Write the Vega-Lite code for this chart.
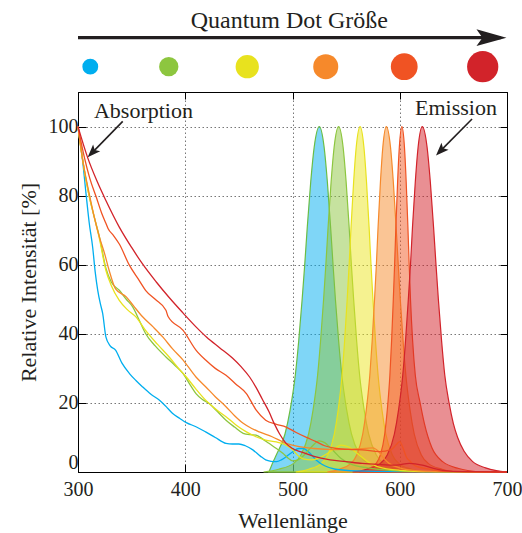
{
  "$schema": "https://vega.github.io/schema/vega-lite/v6.json",
  "padding": {"left": 16, "top": 5, "right": 5, "bottom": 5},
  "config": {
    "font": "Liberation Serif",
    "view": {"stroke": "#000", "strokeWidth": 1},
    "axis": {"labelColor": "#231f20", "titleColor": "#231f20", "tickColor": "#000", "domainColor": "#000", "labelFont": "Liberation Serif", "titleFont": "Liberation Serif", "titleFontWeight": "normal"}
  },
  "datasets": {
    "one": [{}],
    "dots": [
      {"qd": "blau", "groesse": 1.0},
      {"qd": "gruen", "groesse": 1.22},
      {"qd": "gelb", "groesse": 1.47},
      {"qd": "orange", "groesse": 1.58},
      {"qd": "orangerot", "groesse": 1.69},
      {"qd": "rot", "groesse": 1.97}
    ],
    "emission": [
      {"qd":"blau","nm":478,"em":0},{"qd":"blau","nm":482,"em":3},{"qd":"blau","nm":485,"em":5},{"qd":"blau","nm":493,"em":11},{"qd":"blau","nm":497.8,"em":18},{"qd":"blau","nm":502.6,"em":28},{"qd":"blau","nm":505.8,"em":38},{"qd":"blau","nm":509,"em":50},{"qd":"blau","nm":511.4,"em":60},{"qd":"blau","nm":513.8,"em":71},{"qd":"blau","nm":517,"em":84},{"qd":"blau","nm":520.2,"em":94},{"qd":"blau","nm":525,"em":100},{"qd":"blau","nm":529.5,"em":94},{"qd":"blau","nm":532.5,"em":84},{"qd":"blau","nm":535.5,"em":71},{"qd":"blau","nm":537.8,"em":60},{"qd":"blau","nm":540,"em":50},{"qd":"blau","nm":543,"em":38},{"qd":"blau","nm":546,"em":28},{"qd":"blau","nm":550.5,"em":18},{"qd":"blau","nm":555,"em":11},{"qd":"blau","nm":562.5,"em":5},{"qd":"blau","nm":570,"em":2.5},{"qd":"blau","nm":585,"em":0.8},{"qd":"blau","nm":600,"em":0},
      {"qd":"gruen","nm":473,"em":0},{"qd":"gruen","nm":487,"em":0.8},{"qd":"gruen","nm":501,"em":2.5},{"qd":"gruen","nm":508,"em":5},{"qd":"gruen","nm":515,"em":11},{"qd":"gruen","nm":519.2,"em":18},{"qd":"gruen","nm":523.4,"em":28},{"qd":"gruen","nm":526.2,"em":38},{"qd":"gruen","nm":529,"em":50},{"qd":"gruen","nm":531.1,"em":60},{"qd":"gruen","nm":533.2,"em":71},{"qd":"gruen","nm":536,"em":84},{"qd":"gruen","nm":538.8,"em":94},{"qd":"gruen","nm":543,"em":100},{"qd":"gruen","nm":547.2,"em":94},{"qd":"gruen","nm":550,"em":84},{"qd":"gruen","nm":552.8,"em":71},{"qd":"gruen","nm":554.9,"em":60},{"qd":"gruen","nm":557,"em":50},{"qd":"gruen","nm":559.8,"em":38},{"qd":"gruen","nm":562.6,"em":28},{"qd":"gruen","nm":566.8,"em":18},{"qd":"gruen","nm":571,"em":11},{"qd":"gruen","nm":578,"em":5},{"qd":"gruen","nm":585,"em":2.5},{"qd":"gruen","nm":599,"em":0.8},{"qd":"gruen","nm":613,"em":0},
      {"qd":"gelb","nm":503,"em":0},{"qd":"gelb","nm":515,"em":0.8},{"qd":"gelb","nm":527,"em":2.5},{"qd":"gelb","nm":533,"em":5},{"qd":"gelb","nm":539,"em":11},{"qd":"gelb","nm":542.6,"em":18},{"qd":"gelb","nm":546.2,"em":28},{"qd":"gelb","nm":548.6,"em":38},{"qd":"gelb","nm":551,"em":50},{"qd":"gelb","nm":552.8,"em":60},{"qd":"gelb","nm":554.6,"em":71},{"qd":"gelb","nm":557,"em":84},{"qd":"gelb","nm":559.4,"em":94},{"qd":"gelb","nm":563,"em":100},{"qd":"gelb","nm":566.6,"em":94},{"qd":"gelb","nm":569,"em":84},{"qd":"gelb","nm":571.4,"em":71},{"qd":"gelb","nm":573.2,"em":60},{"qd":"gelb","nm":575,"em":50},{"qd":"gelb","nm":577.4,"em":38},{"qd":"gelb","nm":579.8,"em":28},{"qd":"gelb","nm":583.4,"em":18},{"qd":"gelb","nm":587,"em":11},{"qd":"gelb","nm":593,"em":5},{"qd":"gelb","nm":599,"em":2.5},{"qd":"gelb","nm":611,"em":0.8},{"qd":"gelb","nm":623,"em":0},
      {"qd":"orange","nm":532.5,"em":0},{"qd":"orange","nm":543.5,"em":0.8},{"qd":"orange","nm":554.5,"em":2.5},{"qd":"orange","nm":560,"em":5},{"qd":"orange","nm":565.5,"em":11},{"qd":"orange","nm":568.8,"em":18},{"qd":"orange","nm":572.1,"em":28},{"qd":"orange","nm":574.3,"em":38},{"qd":"orange","nm":576.5,"em":50},{"qd":"orange","nm":578.2,"em":60},{"qd":"orange","nm":579.8,"em":71},{"qd":"orange","nm":582,"em":84},{"qd":"orange","nm":584.2,"em":94},{"qd":"orange","nm":587.5,"em":100},{"qd":"orange","nm":591.4,"em":94},{"qd":"orange","nm":594,"em":84},{"qd":"orange","nm":596.6,"em":71},{"qd":"orange","nm":598.6,"em":60},{"qd":"orange","nm":600.5,"em":50},{"qd":"orange","nm":603.1,"em":38},{"qd":"orange","nm":605.7,"em":28},{"qd":"orange","nm":609.6,"em":18},{"qd":"orange","nm":613.5,"em":11},{"qd":"orange","nm":620,"em":5},{"qd":"orange","nm":626.5,"em":2.5},{"qd":"orange","nm":639.5,"em":0.8},{"qd":"orange","nm":652.5,"em":0},
      {"qd":"orangerot","nm":562,"em":0},{"qd":"orangerot","nm":570,"em":0.8},{"qd":"orangerot","nm":578,"em":2.5},{"qd":"orangerot","nm":582,"em":5},{"qd":"orangerot","nm":586,"em":11},{"qd":"orangerot","nm":588.4,"em":18},{"qd":"orangerot","nm":590.8,"em":28},{"qd":"orangerot","nm":592.4,"em":38},{"qd":"orangerot","nm":594,"em":50},{"qd":"orangerot","nm":595.2,"em":60},{"qd":"orangerot","nm":596.4,"em":71},{"qd":"orangerot","nm":598,"em":84},{"qd":"orangerot","nm":599.6,"em":94},{"qd":"orangerot","nm":602,"em":100},{"qd":"orangerot","nm":604.4,"em":94},{"qd":"orangerot","nm":606,"em":84},{"qd":"orangerot","nm":607.6,"em":71},{"qd":"orangerot","nm":608.8,"em":60},{"qd":"orangerot","nm":610,"em":50},{"qd":"orangerot","nm":612,"em":38},{"qd":"orangerot","nm":614.5,"em":28},{"qd":"orangerot","nm":619,"em":20},{"qd":"orangerot","nm":623,"em":14},{"qd":"orangerot","nm":630,"em":7},{"qd":"orangerot","nm":640,"em":3},{"qd":"orangerot","nm":655,"em":1},{"qd":"orangerot","nm":675,"em":0},
      {"qd":"rot","nm":556,"em":0},{"qd":"rot","nm":569,"em":0.8},{"qd":"rot","nm":582,"em":2.5},{"qd":"rot","nm":588.5,"em":5},{"qd":"rot","nm":595,"em":11},{"qd":"rot","nm":598.9,"em":18},{"qd":"rot","nm":602.8,"em":28},{"qd":"rot","nm":605.4,"em":38},{"qd":"rot","nm":608,"em":50},{"qd":"rot","nm":610,"em":60},{"qd":"rot","nm":611.9,"em":71},{"qd":"rot","nm":614.5,"em":84},{"qd":"rot","nm":617.1,"em":94},{"qd":"rot","nm":621,"em":100},{"qd":"rot","nm":625.5,"em":94},{"qd":"rot","nm":628.5,"em":84},{"qd":"rot","nm":631.5,"em":71},{"qd":"rot","nm":633.8,"em":60},{"qd":"rot","nm":636,"em":50},{"qd":"rot","nm":639,"em":38},{"qd":"rot","nm":642,"em":28},{"qd":"rot","nm":646,"em":20},{"qd":"rot","nm":650,"em":14},{"qd":"rot","nm":654,"em":10},{"qd":"rot","nm":660,"em":6},{"qd":"rot","nm":668,"em":3},{"qd":"rot","nm":680,"em":1.2},{"qd":"rot","nm":690,"em":0.4},{"qd":"rot","nm":700,"em":0}
    ],
    "absorption": [
      {"qd":"blau","nm":300,"abs":100},{"qd":"blau","nm":304,"abs":91},{"qd":"blau","nm":307.5,"abs":80.5},{"qd":"blau","nm":310.5,"abs":72},{"qd":"blau","nm":313.7,"abs":65},{"qd":"blau","nm":316,"abs":58},{"qd":"blau","nm":318.4,"abs":52.6},{"qd":"blau","nm":321,"abs":48.5},{"qd":"blau","nm":323,"abs":45.9},{"qd":"blau","nm":326,"abs":39.1},{"qd":"blau","nm":330,"abs":36.5},{"qd":"blau","nm":335,"abs":35.3},{"qd":"blau","nm":341,"abs":31.5},{"qd":"blau","nm":348,"abs":28.5},{"qd":"blau","nm":354,"abs":26.5},{"qd":"blau","nm":360,"abs":24.7},{"qd":"blau","nm":368,"abs":22.5},{"qd":"blau","nm":376,"abs":20.8},{"qd":"blau","nm":382,"abs":19},{"qd":"blau","nm":388,"abs":17},{"qd":"blau","nm":395,"abs":15.5},{"qd":"blau","nm":401,"abs":14.3},{"qd":"blau","nm":410,"abs":13.1},{"qd":"blau","nm":419,"abs":11.6},{"qd":"blau","nm":428,"abs":10},{"qd":"blau","nm":438,"abs":8.3},{"qd":"blau","nm":444,"abs":8.1},{"qd":"blau","nm":450,"abs":8.1},{"qd":"blau","nm":456,"abs":7.6},{"qd":"blau","nm":463,"abs":6.4},{"qd":"blau","nm":470,"abs":4.6},{"qd":"blau","nm":475,"abs":3.5},{"qd":"blau","nm":480,"abs":3.1},{"qd":"blau","nm":485,"abs":3},{"qd":"blau","nm":490,"abs":3.6},{"qd":"blau","nm":494,"abs":4.4},{"qd":"blau","nm":500,"abs":5.8},{"qd":"blau","nm":506,"abs":6.8},{"qd":"blau","nm":510,"abs":6.8},{"qd":"blau","nm":515,"abs":5.8},{"qd":"blau","nm":522,"abs":3.5},{"qd":"blau","nm":530,"abs":1.8},{"qd":"blau","nm":540,"abs":0.8},{"qd":"blau","nm":560,"abs":0.3},{"qd":"blau","nm":600,"abs":0.1},{"qd":"blau","nm":700,"abs":0},
      {"qd":"gruen","nm":300,"abs":100},{"qd":"gruen","nm":304,"abs":91},{"qd":"gruen","nm":310,"abs":80.5},{"qd":"gruen","nm":315,"abs":74},{"qd":"gruen","nm":320,"abs":68},{"qd":"gruen","nm":326,"abs":59},{"qd":"gruen","nm":331,"abs":55},{"qd":"gruen","nm":338.5,"abs":52.6},{"qd":"gruen","nm":345,"abs":50},{"qd":"gruen","nm":351,"abs":47.8},{"qd":"gruen","nm":357,"abs":44},{"qd":"gruen","nm":363,"abs":40.1},{"qd":"gruen","nm":372,"abs":36.5},{"qd":"gruen","nm":382,"abs":33.3},{"qd":"gruen","nm":390,"abs":31},{"qd":"gruen","nm":398,"abs":28.5},{"qd":"gruen","nm":405,"abs":25},{"qd":"gruen","nm":410,"abs":22.7},{"qd":"gruen","nm":416,"abs":21},{"qd":"gruen","nm":422,"abs":19.9},{"qd":"gruen","nm":430,"abs":17.5},{"qd":"gruen","nm":438,"abs":15},{"qd":"gruen","nm":446,"abs":13},{"qd":"gruen","nm":454,"abs":11.2},{"qd":"gruen","nm":460,"abs":10.8},{"qd":"gruen","nm":466,"abs":10.7},{"qd":"gruen","nm":472,"abs":9.6},{"qd":"gruen","nm":478,"abs":8.3},{"qd":"gruen","nm":485,"abs":6.8},{"qd":"gruen","nm":491,"abs":5.4},{"qd":"gruen","nm":496,"abs":4},{"qd":"gruen","nm":500,"abs":3.2},{"qd":"gruen","nm":505,"abs":3.5},{"qd":"gruen","nm":510,"abs":4.6},{"qd":"gruen","nm":517,"abs":7},{"qd":"gruen","nm":525,"abs":9},{"qd":"gruen","nm":530,"abs":8.5},{"qd":"gruen","nm":537,"abs":6.5},{"qd":"gruen","nm":545,"abs":4},{"qd":"gruen","nm":555,"abs":2.2},{"qd":"gruen","nm":570,"abs":1.2},{"qd":"gruen","nm":590,"abs":0.5},{"qd":"gruen","nm":620,"abs":0.1},{"qd":"gruen","nm":700,"abs":0},
      {"qd":"gelb","nm":300,"abs":100},{"qd":"gelb","nm":304,"abs":91},{"qd":"gelb","nm":310,"abs":80.5},{"qd":"gelb","nm":315,"abs":74},{"qd":"gelb","nm":320,"abs":67.5},{"qd":"gelb","nm":326,"abs":58.4},{"qd":"gelb","nm":331,"abs":54},{"qd":"gelb","nm":338.5,"abs":49.7},{"qd":"gelb","nm":346,"abs":47},{"qd":"gelb","nm":354,"abs":44.9},{"qd":"gelb","nm":363,"abs":41},{"qd":"gelb","nm":374,"abs":37},{"qd":"gelb","nm":385,"abs":33.3},{"qd":"gelb","nm":393,"abs":30.3},{"qd":"gelb","nm":401,"abs":27.5},{"qd":"gelb","nm":410,"abs":24},{"qd":"gelb","nm":419,"abs":20.8},{"qd":"gelb","nm":428,"abs":18.3},{"qd":"gelb","nm":438,"abs":16},{"qd":"gelb","nm":447,"abs":13.7},{"qd":"gelb","nm":457,"abs":11.6},{"qd":"gelb","nm":466,"abs":10.2},{"qd":"gelb","nm":475,"abs":9.2},{"qd":"gelb","nm":485,"abs":8.7},{"qd":"gelb","nm":494,"abs":7.8},{"qd":"gelb","nm":500,"abs":6.5},{"qd":"gelb","nm":505,"abs":4.8},{"qd":"gelb","nm":510,"abs":3.8},{"qd":"gelb","nm":518,"abs":3.5},{"qd":"gelb","nm":528,"abs":4.5},{"qd":"gelb","nm":538,"abs":6.5},{"qd":"gelb","nm":545,"abs":7.8},{"qd":"gelb","nm":552,"abs":7.3},{"qd":"gelb","nm":560,"abs":5.5},{"qd":"gelb","nm":568,"abs":3.5},{"qd":"gelb","nm":580,"abs":1.5},{"qd":"gelb","nm":600,"abs":0.5},{"qd":"gelb","nm":630,"abs":0.1},{"qd":"gelb","nm":700,"abs":0},
      {"qd":"orange","nm":300,"abs":100},{"qd":"orange","nm":304,"abs":91},{"qd":"orange","nm":310.5,"abs":80.5},{"qd":"orange","nm":315,"abs":74},{"qd":"orange","nm":320,"abs":68},{"qd":"orange","nm":325,"abs":63},{"qd":"orange","nm":329,"abs":58.4},{"qd":"orange","nm":335,"abs":53},{"qd":"orange","nm":345,"abs":50.7},{"qd":"orange","nm":352,"abs":48},{"qd":"orange","nm":360,"abs":45},{"qd":"orange","nm":370,"abs":42},{"qd":"orange","nm":379,"abs":39.1},{"qd":"orange","nm":388,"abs":35.7},{"qd":"orange","nm":398,"abs":32.4},{"qd":"orange","nm":410,"abs":27.5},{"qd":"orange","nm":419,"abs":24.7},{"qd":"orange","nm":428,"abs":21.8},{"qd":"orange","nm":438,"abs":18.9},{"qd":"orange","nm":446,"abs":16.3},{"qd":"orange","nm":454,"abs":14.1},{"qd":"orange","nm":462,"abs":12.6},{"qd":"orange","nm":469,"abs":11.6},{"qd":"orange","nm":481,"abs":10.2},{"qd":"orange","nm":494,"abs":8.3},{"qd":"orange","nm":505,"abs":7.4},{"qd":"orange","nm":520,"abs":6.8},{"qd":"orange","nm":540,"abs":6.5},{"qd":"orange","nm":555,"abs":6.6},{"qd":"orange","nm":568,"abs":6.8},{"qd":"orange","nm":575,"abs":7},{"qd":"orange","nm":580,"abs":6},{"qd":"orange","nm":585,"abs":4},{"qd":"orange","nm":590,"abs":2.5},{"qd":"orange","nm":600,"abs":1.2},{"qd":"orange","nm":615,"abs":0.4},{"qd":"orange","nm":640,"abs":0.1},{"qd":"orange","nm":700,"abs":0},
      {"qd":"orangerot","nm":300,"abs":100},{"qd":"orangerot","nm":306,"abs":91},{"qd":"orangerot","nm":311,"abs":85},{"qd":"orangerot","nm":317,"abs":79.6},{"qd":"orangerot","nm":322,"abs":75},{"qd":"orangerot","nm":326,"abs":72},{"qd":"orangerot","nm":328,"abs":70.5},{"qd":"orangerot","nm":333,"abs":68.5},{"qd":"orangerot","nm":338.5,"abs":66},{"qd":"orangerot","nm":348,"abs":59.8},{"qd":"orangerot","nm":357,"abs":55.5},{"qd":"orangerot","nm":363,"abs":52.6},{"qd":"orangerot","nm":372,"abs":50},{"qd":"orangerot","nm":382,"abs":46.8},{"qd":"orangerot","nm":384,"abs":45},{"qd":"orangerot","nm":398,"abs":41},{"qd":"orangerot","nm":410,"abs":35.3},{"qd":"orangerot","nm":419,"abs":32.4},{"qd":"orangerot","nm":428,"abs":30},{"qd":"orangerot","nm":438,"abs":28},{"qd":"orangerot","nm":447,"abs":25.5},{"qd":"orangerot","nm":457,"abs":22.7},{"qd":"orangerot","nm":466,"abs":18},{"qd":"orangerot","nm":475,"abs":15},{"qd":"orangerot","nm":485,"abs":13.8},{"qd":"orangerot","nm":494,"abs":13},{"qd":"orangerot","nm":503,"abs":11.5},{"qd":"orangerot","nm":513,"abs":10},{"qd":"orangerot","nm":522,"abs":8.8},{"qd":"orangerot","nm":530,"abs":7.6},{"qd":"orangerot","nm":541,"abs":6.8},{"qd":"orangerot","nm":555,"abs":6.5},{"qd":"orangerot","nm":565,"abs":6.4},{"qd":"orangerot","nm":581,"abs":5.9},{"qd":"orangerot","nm":592,"abs":6.5},{"qd":"orangerot","nm":597,"abs":8},{"qd":"orangerot","nm":600,"abs":8.8},{"qd":"orangerot","nm":603,"abs":7},{"qd":"orangerot","nm":606,"abs":4.4},{"qd":"orangerot","nm":610,"abs":3},{"qd":"orangerot","nm":615,"abs":1.7},{"qd":"orangerot","nm":628,"abs":0.8},{"qd":"orangerot","nm":640,"abs":0.2},{"qd":"orangerot","nm":700,"abs":0},
      {"qd":"rot","nm":300,"abs":100},{"qd":"rot","nm":309,"abs":91},{"qd":"rot","nm":318,"abs":84},{"qd":"rot","nm":326,"abs":78.6},{"qd":"rot","nm":338.5,"abs":70.9},{"qd":"rot","nm":350,"abs":65},{"qd":"rot","nm":360,"abs":60.3},{"qd":"rot","nm":373,"abs":55},{"qd":"rot","nm":385,"abs":50.5},{"qd":"rot","nm":398,"abs":46},{"qd":"rot","nm":410,"abs":42},{"qd":"rot","nm":420,"abs":39},{"qd":"rot","nm":432,"abs":36},{"qd":"rot","nm":444,"abs":33},{"qd":"rot","nm":452,"abs":30.5},{"qd":"rot","nm":460,"abs":27.5},{"qd":"rot","nm":466,"abs":24.5},{"qd":"rot","nm":472,"abs":21},{"qd":"rot","nm":478,"abs":17.5},{"qd":"rot","nm":483,"abs":14},{"qd":"rot","nm":488,"abs":11},{"qd":"rot","nm":494,"abs":8.3},{"qd":"rot","nm":500,"abs":6.8},{"qd":"rot","nm":510,"abs":5.6},{"qd":"rot","nm":520,"abs":4.5},{"qd":"rot","nm":535,"abs":3.5},{"qd":"rot","nm":550,"abs":3},{"qd":"rot","nm":565,"abs":2.5},{"qd":"rot","nm":580,"abs":2.2},{"qd":"rot","nm":597,"abs":2},{"qd":"rot","nm":609,"abs":2.5},{"qd":"rot","nm":621,"abs":2},{"qd":"rot","nm":630,"abs":1.2},{"qd":"rot","nm":640,"abs":0.5},{"qd":"rot","nm":660,"abs":0.1},{"qd":"rot","nm":700,"abs":0}
    ]
  },
  "bounds": "flush",
  "spacing": 17,
  "vconcat": [
    {
      "width": 429,
      "height": 70,
      "view": {"stroke": null},
      "resolve": {"scale": {"x": "independent"}},
      "layer": [
        {
          "data": {"name": "one"},
          "mark": {"type": "text", "fontSize": 24, "baseline": "alphabetic", "align": "center", "color": "#231f20"},
          "encoding": {
            "x": {"datum": 497, "type": "quantitative", "scale": {"domain": [300, 700], "nice": false}, "axis": null},
            "y": {"datum": 0.667, "type": "quantitative", "scale": {"domain": [0, 1], "nice": false}, "axis": null},
            "text": {"value": "Quantum Dot Größe"}
          }
        },
        {
          "data": {"name": "one"},
          "mark": {"type": "rule", "strokeWidth": 3.2, "color": "#231f20"},
          "encoding": {
            "x": {"datum": 300, "type": "quantitative", "scale": {"domain": [300, 700], "nice": false}, "axis": null},
            "x2": {"datum": 694},
            "y": {"datum": 0.533, "type": "quantitative", "scale": {"domain": [0, 1], "nice": false}, "axis": null}
          }
        },
        {
          "data": {"name": "one"},
          "mark": {"type": "point", "shape": "M0,0L-1,-0.28L-0.8,0L-1,0.28Z", "size": 3600, "filled": true, "color": "#231f20", "opacity": 1},
          "encoding": {
            "x": {"datum": 699.5, "type": "quantitative", "scale": {"domain": [300, 700], "nice": false}, "axis": null},
            "y": {"datum": 0.533, "type": "quantitative", "scale": {"domain": [0, 1], "nice": false}, "axis": null}
          }
        },
        {
          "data": {"name": "dots"},
          "mark": {"type": "circle", "opacity": 1},
          "encoding": {
            "x": {"field": "qd", "type": "nominal", "scale": {"type": "point", "domain": ["blau", "gruen", "gelb", "orange", "orangerot", "rot"], "padding": 0.233, "align": 0.336}, "axis": null},
            "y": {"datum": 0.119, "type": "quantitative", "scale": {"domain": [0, 1], "nice": false}, "axis": null},
            "color": {"field": "qd", "type": "nominal", "scale": {"domain": ["blau", "gruen", "gelb", "orange", "orangerot", "rot"], "range": ["#00aeef", "#8dc63f", "#e8e21e", "#f6892b", "#f05323", "#d2232a"]}, "legend": null},
            "size": {"field": "groesse", "type": "quantitative", "scale": {"type": "pow", "exponent": 2, "domain": [0, 2], "range": [0, 1005]}, "legend": null}
          }
        }
      ]
    },
    {
      "width": 429,
      "height": 380,
      "resolve": {"axis": {"x": "independent", "y": "independent"}},
      "layer": [
        {
          "data": {"name": "emission"},
          "mark": {"type": "area", "interpolate": "monotone", "fillOpacity": 0.5, "strokeWidth": 1.2, "strokeOpacity": 1},
          "encoding": {
            "x": {"field": "nm", "type": "quantitative", "scale": {"domain": [300, 700], "nice": false},
              "axis": {"orient": "bottom", "values": [300, 400, 500, 600, 700], "grid": true, "gridDash": [1.5, 2.5], "gridColor": "#777", "gridWidth": 1, "tickSize": -8, "labelPadding": 15, "labelFontSize": 20, "title": "Wellenlänge", "titleFontSize": 22, "titlePadding": 11, "labelFlush": false}},
            "y": {"field": "em", "type": "quantitative", "stack": null, "scale": {"domain": [0, 110], "nice": false},
              "axis": {"orient": "left", "values": [0, 20, 40, 60, 80, 100], "grid": true, "gridDash": [1.5, 2.5], "gridColor": "#777", "gridWidth": 1, "tickSize": -8, "labelPadding": 8, "labelFontSize": 20, "labelFlush": true, "labelFlushOffset": 0, "title": "Relative Intensität [%]", "titleFontSize": 22, "titlePadding": 8}},
            "fill": {"field": "qd", "type": "nominal", "scale": {"domain": ["blau", "gruen", "gelb", "orange", "orangerot", "rot"], "range": ["#00aeef", "#8dc63f", "#ece622", "#f68b2c", "#f15a24", "#d42027"]}, "legend": null},
            "stroke": {"field": "qd", "type": "nominal", "scale": {"domain": ["blau", "gruen", "gelb", "orange", "orangerot", "rot"], "range": ["#6abd45", "#8dc63f", "#e8e21e", "#f6892b", "#f05323", "#d2232a"]}, "legend": null}
          }
        },
        {
          "data": {"name": "absorption"},
          "mark": {"type": "line", "interpolate": "monotone", "strokeWidth": 1.3},
          "encoding": {
            "x": {"field": "nm", "type": "quantitative", "axis": {"orient": "top", "values": [300, 400, 500, 600, 700], "labels": false, "grid": false, "tickSize": -7, "title": null}},
            "y": {"field": "abs", "type": "quantitative", "axis": {"orient": "right", "values": [0, 20, 40, 60, 80, 100], "labels": false, "grid": false, "tickSize": -7, "title": null}},
            "color": {"field": "qd", "type": "nominal", "scale": {"domain": ["blau", "gruen", "gelb", "orange", "orangerot", "rot"], "range": ["#00aeef", "#8dc63f", "#e8e21e", "#f6892b", "#f05323", "#d2232a"]}, "legend": null}
          }
        },
        {
          "data": {"name": "one"},
          "mark": {"type": "text", "fontSize": 22, "align": "left", "baseline": "alphabetic", "color": "#231f20"},
          "encoding": {
            "x": {"datum": 314.9, "type": "quantitative", "axis": null},
            "y": {"datum": 102.6, "type": "quantitative", "axis": null},
            "text": {"value": "Absorption"}
          }
        },
        {
          "data": {"name": "one"},
          "mark": {"type": "text", "fontSize": 22, "align": "left", "baseline": "alphabetic", "color": "#231f20"},
          "encoding": {
            "x": {"datum": 614.2, "type": "quantitative", "axis": null},
            "y": {"datum": 103.4, "type": "quantitative", "axis": null},
            "text": {"value": "Emission"}
          }
        },
        {
          "data": {"name": "one"},
          "mark": {"type": "rule", "strokeWidth": 1.6, "color": "#231f20"},
          "encoding": {
            "x": {"datum": 341.7, "type": "quantitative", "axis": null},
            "y": {"datum": 101.5, "type": "quantitative", "axis": null},
            "x2": {"datum": 314.2},
            "y2": {"datum": 92.75}
          }
        },
        {
          "data": {"name": "one"},
          "mark": {"type": "rule", "strokeWidth": 1.6, "color": "#231f20"},
          "encoding": {
            "x": {"datum": 667.4, "type": "quantitative", "axis": null},
            "y": {"datum": 102.2, "type": "quantitative", "axis": null},
            "x2": {"datum": 638.9},
            "y2": {"datum": 93.25}
          }
        },
        {
          "data": {"name": "one"},
          "mark": {"type": "point", "shape": "M0,0L-0.38,1L0,0.78L0.38,1Z", "size": 676, "filled": true, "color": "#231f20", "opacity": 1, "angle": 224},
          "encoding": {
            "x": {"datum": 309, "type": "quantitative", "axis": null},
            "y": {"datum": 91.1, "type": "quantitative", "axis": null}
          }
        },
        {
          "data": {"name": "one"},
          "mark": {"type": "point", "shape": "M0,0L-0.38,1L0,0.78L0.38,1Z", "size": 676, "filled": true, "color": "#231f20", "opacity": 1, "angle": 224},
          "encoding": {
            "x": {"datum": 633.8, "type": "quantitative", "axis": null},
            "y": {"datum": 91.6, "type": "quantitative", "axis": null}
          }
        }
      ]
    }
  ]
}
